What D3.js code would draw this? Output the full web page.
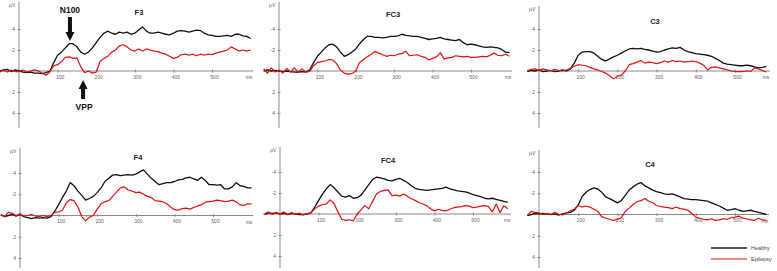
<!DOCTYPE html>
<html>
<head>
<meta charset="utf-8">
<script src="https://cdn.jsdelivr.net/npm/d3@7"></script>
<style>
  html, body { margin: 0; padding: 0; background: #fff; }
  svg { display: block; font-family: "Liberation Sans", Arial, sans-serif; }
</style>
</head>
<body>
<svg id="chart" width="777" height="271"></svg>
<script>
// ---------- DATA ----------
// time points (ms), 10 ms step
const times = [-50,-40,-30,-20,-10,0,10,20,30,40,50,60,70,80,90,100,110,120,130,140,150,160,170,180,190,200,
  210,220,230,240,250,260,270,280,290,300,310,320,330,340,350,360,370,380,390,400,410,420,430,440,450,
  460,470,480,490,500,510,520,530,540,550,560,570,580,590,600];

const groups = ["Healthy", "Epilepsy"];
const electrodes = ["F3", "FC3", "C3", "F4", "FC4", "C4"];
const yTickValues = [-4, -2, 2, 4];
const xTickValues = [100, 200, 300, 400, 500];

// amplitudes in µV (negative plotted upward)
const F3_healthy = [0,-0.1,-0.15,0.05,-0.1,0,0.1,0.15,0.1,0.2,0.2,0.25,0.15,0.0,-0.8,-1.5,-1.8,-2.2,-2.6,-2.6,-2.3,-1.8,-1.6,-1.8,-2.2,-2.7,
  -3.2,-3.6,-3.8,-3.6,-3.5,-3.7,-3.6,-3.7,-3.5,-3.6,-3.9,-4.2,-3.8,-3.6,-3.6,-3.7,-3.6,-3.5,-3.45,-3.6,-3.8,-3.85,-3.8,-3.7,-3.8,
  -3.9,-3.85,-3.6,-3.45,-3.4,-3.3,-3.3,-3.35,-3.4,-3.3,-3.5,-3.5,-3.35,-3.3,-3.1];
const F3_epilepsy = [0.1,-0.05,0.1,-0.1,0.05,0.05,-0.1,0.1,0.0,-0.1,0.0,0.2,0.4,0.1,-0.5,-0.6,-0.9,-1.3,-1.35,-1.2,-1.25,-0.4,0.15,0.0,0.2,0.1,
  -0.9,-1.2,-1.4,-1.8,-2.0,-2.4,-2.5,-2.3,-2.0,-1.9,-2.1,-1.9,-2.1,-2.0,-1.9,-1.85,-1.7,-1.6,-1.4,-1.2,-1.3,-1.55,-1.6,-1.5,-1.6,
  -1.45,-1.6,-1.5,-1.6,-1.55,-1.7,-1.8,-1.9,-2.0,-2.3,-2.1,-1.9,-2.0,-1.9,-2.0];

const FC3_healthy = [0.1,0.0,-0.1,0.0,-0.05,0.0,0.05,0.0,0.05,0.1,0.1,0.05,0.1,-0.1,-0.8,-1.4,-1.8,-2.2,-2.5,-2.55,-2.3,-1.8,-1.4,-1.55,-1.8,-2.1,
  -2.6,-3.0,-3.3,-3.3,-3.2,-3.2,-3.15,-3.2,-3.3,-3.3,-3.35,-3.5,-3.4,-3.35,-3.3,-3.3,-3.2,-3.1,-3.0,-3.05,-3.1,-3.2,-3.05,-3.0,-2.95,
  -2.9,-3.0,-2.7,-2.5,-2.55,-2.5,-2.4,-2.3,-2.25,-2.3,-2.25,-2.2,-2.05,-1.8,-1.75];
const FC3_epilepsy = [0.1,-0.2,0.2,-0.3,0.1,-0.1,0.2,-0.25,0.1,-0.3,0.1,-0.2,0.1,0.05,-0.5,-0.8,-0.9,-0.95,-1.1,-1.05,-0.7,-0.1,0.2,0.3,0.25,0.0,
  -0.8,-1.1,-1.35,-1.6,-1.85,-1.7,-1.55,-1.4,-1.5,-1.45,-1.6,-1.65,-1.9,-1.45,-1.5,-1.55,-1.4,-1.3,-1.05,-1.2,-1.35,-1.75,-1.15,-1.25,-1.3,
  -1.45,-1.4,-1.35,-1.4,-1.3,-1.3,-1.35,-1.4,-1.35,-1.5,-1.7,-1.5,-1.45,-1.6,-1.4];

const C3_healthy = [0,0,0.05,-0.05,0.0,-0.1,0.05,0.0,-0.05,0.05,0.0,-0.1,0.0,-0.2,-0.75,-1.5,-1.8,-1.85,-1.85,-1.7,-1.4,-1.1,-0.95,-1.15,-1.35,-1.5,
  -1.7,-1.9,-2.1,-2.15,-2.1,-2.15,-2.05,-2.0,-1.9,-1.8,-1.85,-2.0,-2.1,-2.2,-2.15,-2.25,-2.0,-1.85,-1.75,-1.65,-1.6,-1.55,-1.5,-1.4,-1.2,
  -1.0,-0.75,-0.65,-0.6,-0.55,-0.5,-0.5,-0.55,-0.5,-0.4,-0.3,-0.35,-0.45,-0.05,0];
const C3_epilepsy = [0,0,0.0,-0.15,-0.2,-0.05,-0.2,-0.1,0.0,-0.15,-0.05,0.0,-0.1,-0.25,-0.45,-0.6,-0.55,-0.5,-0.35,-0.2,-0.1,0.05,0.2,0.45,0.75,0.5,
  0.4,0.0,-0.6,-0.7,-0.85,-1.0,-0.75,-0.85,-0.8,-0.7,-0.8,-0.95,-0.85,-1.0,-0.9,-0.95,-0.85,-0.9,-0.95,-0.9,-0.75,-0.55,-0.1,-0.35,-0.4,
  -0.3,-0.2,-0.1,0.0,0.05,0.05,0.05,0.0,0.05,-0.3,-0.2,-0.05,0.1,0.25,0.25];

const F4_healthy = [-0.05,0.1,0.0,-0.1,0.05,-0.1,0.1,0.2,0.3,0.2,0.25,0.2,0.25,0.1,-0.4,-1.0,-1.7,-2.3,-3.1,-2.8,-2.3,-1.9,-1.45,-1.6,-1.8,-2.15,
  -2.6,-3.2,-3.5,-3.8,-3.85,-3.75,-3.8,-3.85,-3.8,-3.9,-4.1,-4.3,-3.9,-3.5,-3.2,-2.9,-3.0,-3.1,-3.1,-3.2,-3.35,-3.4,-3.55,-3.6,-3.45,
  -3.3,-3.6,-3.3,-2.9,-2.9,-2.85,-2.9,-2.5,-2.5,-2.7,-3.1,-2.8,-2.75,-2.6,-2.6];
const F4_epilepsy = [-0.1,0.1,-0.3,-0.2,0.0,-0.15,0.05,0.0,-0.1,0.05,0.1,0.0,0.1,0.0,-0.3,-0.35,-0.5,-1.2,-1.5,-1.4,-0.8,0.1,0.5,0.15,0.0,-0.6,
  -1.1,-1.3,-1.4,-1.8,-2.2,-2.6,-2.7,-2.4,-2.3,-2.15,-2.2,-2.0,-1.8,-1.7,-1.4,-1.35,-1.3,-1.1,-0.8,-0.55,-0.5,-0.65,-0.7,-0.6,-0.75,
  -0.9,-1.0,-1.25,-1.3,-1.35,-1.45,-1.4,-1.3,-1.35,-1.45,-1.3,-1.0,-0.95,-1.1,-1.1];

const FC4_healthy = [0.1,0.05,-0.1,-0.05,-0.1,0.0,-0.05,0.05,-0.05,0.0,0.05,0.05,0.0,-0.1,-0.65,-1.3,-1.9,-2.4,-2.8,-2.5,-2.1,-1.7,-1.6,-1.75,-1.5,-1.55,
  -1.8,-2.3,-2.8,-3.3,-3.5,-3.45,-3.35,-3.2,-3.15,-3.3,-3.4,-3.2,-3.0,-2.7,-2.45,-2.35,-2.3,-2.25,-2.3,-2.35,-2.4,-2.45,-2.55,-2.4,-2.3,
  -2.2,-2.15,-2.1,-2.0,-1.85,-1.75,-1.65,-1.5,-1.45,-1.5,-1.4,-1.3,-1.2,-1.1,-1.05];
const FC4_epilepsy = [0.1,0.0,-0.2,0.05,-0.15,0.0,-0.2,0.05,-0.15,0.05,-0.1,0.1,-0.05,-0.1,-0.5,-0.75,-0.9,-0.95,-1.35,-1.0,-0.2,0.5,0.6,0.55,0.65,0.0,
  -0.4,-0.8,-0.5,-1.2,-1.9,-2.15,-2.25,-2.3,-1.75,-1.8,-1.7,-1.9,-1.7,-1.45,-1.3,-1.1,-0.95,-0.8,-0.5,-0.3,-0.45,-0.35,-0.3,-0.45,-0.6,
  -0.65,-0.7,-0.8,-0.75,-0.6,-0.65,-0.75,-0.8,-0.7,-0.2,-0.95,-0.15,-0.8,-0.5,-0.5];

const C4_healthy = [0.1,0.1,0.1,0.0,-0.1,-0.05,-0.1,-0.05,0.0,-0.05,0.05,-0.05,-0.15,-0.2,-0.4,-0.9,-1.7,-2.1,-2.35,-2.5,-2.4,-2.1,-1.65,-1.5,-1.3,-1.1,
  -1.3,-1.8,-2.3,-2.6,-2.85,-3.0,-2.7,-2.5,-2.3,-2.15,-2.05,-1.95,-1.9,-1.95,-1.8,-1.65,-1.5,-1.45,-1.4,-1.4,-1.35,-1.3,-1.25,-1.1,-0.95,
  -0.8,-0.6,-0.4,-0.45,-0.55,-0.4,-0.3,-0.35,-0.4,-0.3,-0.2,-0.1,0.0,0.0,0.0];
const C4_epilepsy = [0.1,0.1,0.1,-0.3,-0.2,-0.15,0.0,-0.1,0.0,-0.2,-0.05,0.05,-0.15,-0.35,-0.5,-0.85,-0.7,-0.8,-0.7,-0.5,-0.3,0.2,0.35,0.45,0.55,0.45,
  0.3,-0.3,-0.6,-0.95,-1.2,-1.3,-1.5,-1.25,-1.1,-0.85,-0.75,-0.7,-0.65,-0.55,-0.7,-0.55,-0.5,-0.4,-0.1,0.25,0.35,0.45,0.5,0.4,0.55,
  0.5,0.4,0.45,0.3,0.25,0.15,0.35,0.4,0.5,0.55,0.35,0.5,0.55,0.45,0.5];

const seriesByElectrode = {
  F3: [F3_healthy, F3_epilepsy], FC3: [FC3_healthy, FC3_epilepsy], C3: [C3_healthy, C3_epilepsy],
  F4: [F4_healthy, F4_epilepsy], FC4: [FC4_healthy, FC4_epilepsy], C4: [C4_healthy, C4_epilepsy]
};

// ---------- LAYOUT (pixels) ----------
const layout = {
  F3:  {axisX: 19,  yNeg4: 29,  yPos4: 113, px100: 38.6, tStart: -50, tEnd: 600, yTop: 2,   yBot: 128, lineEnd: 253, titleX: 139, titleY: 15},
  FC3: {axisX: 279, yNeg4: 29,  yPos4: 113, px100: 38.4, tStart: -40, tEnd: 600, yTop: 2,   yBot: 128, lineEnd: 512, titleX: 393, titleY: 17},
  C3:  {axisX: 539, yNeg4: 29,  yPos4: 113, px100: 39.2, tStart: -30, tEnd: 588, yTop: 6,   yBot: 128, lineEnd: 770, titleX: 655, titleY: 24},
  F4:  {axisX: 20,  yNeg4: 173, yPos4: 258, px100: 38.6, tStart: -50, tEnd: 600, yTop: 148, yBot: 268, lineEnd: 253, titleX: 138, titleY: 160},
  FC4: {axisX: 280, yNeg4: 172, yPos4: 256, px100: 38.6, tStart: -45, tEnd: 590, yTop: 147, yBot: 268, lineEnd: 511, titleX: 388, titleY: 163},
  C4:  {axisX: 539, yNeg4: 172, yPos4: 257, px100: 39.2, tStart: -30, tEnd: 580, yTop: 150, yBot: 268, lineEnd: 769, titleX: 650, titleY: 167}
};
const colors = {Healthy: "#111111", Epilepsy: "#e01010"};
const axisColor = "#8a8a8a";

const svg = d3.select("#chart");
const scales = {};

electrodes.forEach(name => {
  const L = layout[name];
  const k = L.px100 / 100;
  const x = d3.scaleLinear().domain([L.tStart, L.tEnd]).range([L.axisX + k * L.tStart, L.axisX + k * L.tEnd]);
  const y = d3.scaleLinear().domain([-4, 4]).range([L.yNeg4, L.yPos4]);
  scales[name] = {x, y};
  const g = svg.append("g");

  // zero line (x axis)
  g.append("line")
    .attr("x1", x(L.tStart)).attr("x2", L.lineEnd)
    .attr("y1", y(0)).attr("y2", y(0))
    .attr("stroke", axisColor).attr("stroke-width", 1.2);

  // x ticks
  const xAxis = d3.axisBottom(x).tickValues(xTickValues).tickSize(2).tickPadding(2).tickFormat(d3.format("d"));
  const gx = g.append("g").attr("transform", `translate(0,${y(0)})`).call(xAxis);
  gx.select(".domain").remove();
  gx.selectAll(".tick line").attr("stroke", axisColor).attr("y1", -1.5).attr("y2", 1.5);
  gx.selectAll(".tick text").attr("font-size", 5).attr("fill", "#666").attr("dx", 2)
    .attr("font-family", "'Liberation Sans', Arial, sans-serif");
  g.append("text").attr("x", L.lineEnd - 4).attr("y", y(0) + 8)
    .attr("font-size", 5).attr("fill", "#666").attr("text-anchor", "middle").text("ms");

  // y axis
  g.append("line")
    .attr("x1", L.axisX).attr("x2", L.axisX)
    .attr("y1", L.yTop).attr("y2", L.yBot)
    .attr("stroke", axisColor).attr("stroke-width", 1);
  const yAxis = d3.axisLeft(y).tickValues(yTickValues).tickSize(2).tickPadding(2).tickFormat(d => String(d));
  const gy = g.append("g").attr("transform", `translate(${L.axisX},0)`).call(yAxis);
  gy.select(".domain").remove();
  gy.selectAll(".tick line").attr("stroke", axisColor).attr("x1", -1.5).attr("x2", 1.5);
  gy.selectAll(".tick text").attr("font-size", 5).attr("fill", "#666")
    .attr("font-family", "'Liberation Sans', Arial, sans-serif");
  g.append("text").attr("x", L.axisX - 10).attr("y", L.yTop + 5)
    .attr("font-size", 5).attr("fill", "#666").text("µV");

  // traces
  const line = d3.line().x(d => x(d.t)).y(d => y(d.v));
  seriesByElectrode[name].forEach((vals, i) => {
    const pts = times.map((t, j) => ({t, v: vals[j]})).filter(d => d.t >= L.tStart && d.t <= L.tEnd);
    g.append("path").datum(pts)
      .attr("d", line)
      .attr("fill", "none")
      .attr("stroke", colors[groups[i]])
      .attr("stroke-width", i === 0 ? 1.3 : 1.2)
      .attr("stroke-linejoin", "round");
  });

  // title
  g.append("text").attr("x", L.titleX).attr("y", L.titleY)
    .attr("text-anchor", "middle").attr("font-size", 7.5).attr("font-weight", "bold")
    .attr("fill", "#222").text(name);
});

// ---------- ANNOTATIONS (F3) ----------
const sF3 = scales.F3;
function arrow(cx, yTail, yTip) {
  const dir = yTip > yTail ? 1 : -1;
  const headLen = 9, headW = 4.5, shaftW = 2;
  const yb = yTip - dir * headLen;
  return `M${cx - shaftW},${yTail} L${cx + shaftW},${yTail} L${cx + shaftW},${yb} L${cx + headW},${yb}
          L${cx},${yTip} L${cx - headW},${yb} L${cx - shaftW},${yb} Z`;
}
const n100X = sF3.x(132);
svg.append("path").attr("d", arrow(n100X, 17, 41)).attr("fill", "#111");
svg.append("text").attr("x", n100X).attr("y", 13).attr("text-anchor", "middle")
  .attr("font-size", 8.5).attr("font-weight", "bold").attr("fill", "#111").text("N100");
const vppX = sF3.x(166);
svg.append("path").attr("d", arrow(vppX, 99, 80)).attr("fill", "#111");
svg.append("text").attr("x", vppX + 1).attr("y", 110).attr("text-anchor", "middle")
  .attr("font-size", 8.5).attr("font-weight", "bold").attr("fill", "#111").text("VPP");

// ---------- LEGEND ----------
const legend = svg.append("g");
groups.forEach((gname, i) => {
  const ly = 248 + i * 11;
  legend.append("line").attr("x1", 711).attr("x2", 747).attr("y1", ly).attr("y2", ly)
    .attr("stroke", i === 0 ? "#555" : "#e01010").attr("stroke-width", i === 0 ? 1.8 : 1.2);
  legend.append("text").attr("x", 751).attr("y", ly + 2)
    .attr("font-size", 5.5).attr("fill", "#444").text(gname);
});
</script>
</body>
</html>
